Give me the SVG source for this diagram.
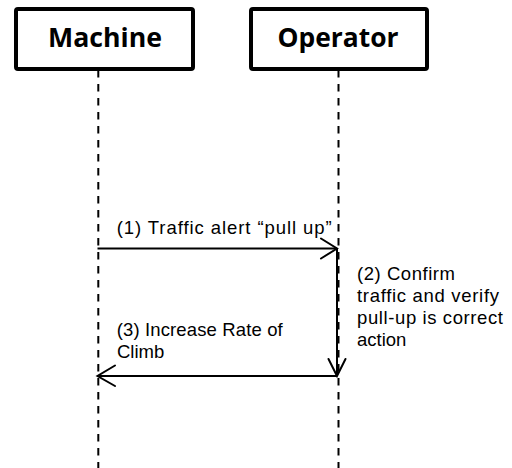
<svg xmlns="http://www.w3.org/2000/svg" width="512" height="468" viewBox="0 0 512 468">
  <style>
    .box { fill: #ffffff; stroke: #000000; stroke-width: 4; }
    .title { font-family: "Open Sans", "Liberation Sans", sans-serif; font-weight: bold; font-size: 27px; fill: #000000; text-anchor: middle; }
    .lifeline { stroke: #000000; stroke-width: 2; stroke-dasharray: 7.5 6.5; fill: none; }
    .msg { stroke: #000000; stroke-width: 2; fill: none; }
    .head { stroke: #000000; stroke-width: 2; fill: none; stroke-linecap: round; stroke-linejoin: miter; }
    .label { font-family: "Liberation Sans", Arial, sans-serif; font-size: 18.5px; fill: #000000; }
  </style>
  <rect width="512" height="468" fill="#ffffff"/>

  <!-- lifelines -->
  <g id="lifelines">
    <line class="lifeline" x1="98.3" y1="70" x2="98.3" y2="468"/>
    <line class="lifeline" x1="338.5" y1="70" x2="338.5" y2="468"/>
  </g>

  <!-- participants -->
  <g id="machine">
    <rect class="box" x="16" y="9" width="177" height="60" rx="2"/>
    <text class="title" x="105" y="47" textLength="114" lengthAdjust="spacingAndGlyphs">Machine</text>
  </g>
  <g id="operator">
    <rect class="box" x="251" y="9" width="176" height="60" rx="2"/>
    <text class="title" x="338" y="47" textLength="121" lengthAdjust="spacingAndGlyphs">Operator</text>
  </g>

  <!-- messages -->
  <g id="connectors">
    <line class="msg" x1="97.5" y1="248.5" x2="337" y2="248.5"/>
    <polyline class="head" points="321,238.5 337,248.5 321,258.5"/>
    <line class="msg" x1="337" y1="248.5" x2="337" y2="376"/>
    <polyline class="head" points="328.5,359 337,376 345.5,359"/>
    <line class="msg" x1="337" y1="376" x2="97.5" y2="376"/>
    <polyline class="head" points="115,365.5 97.5,376 115,386"/>
  </g>

  <!-- message labels -->
  <g id="label-1">
    <text class="label" x="116.7" y="234" textLength="215" lengthAdjust="spacing">(1) Traffic alert “pull up”</text>
  </g>
  <g id="label-2">
    <text class="label" x="357" y="280" textLength="98" lengthAdjust="spacing">(2) Confirm</text>
    <text class="label" x="357" y="302" textLength="142" lengthAdjust="spacing">traffic and verify</text>
    <text class="label" x="357" y="324" textLength="146" lengthAdjust="spacing">pull-up is correct</text>
    <text class="label" x="357" y="346">action</text>
  </g>
  <g id="label-3">
    <text class="label" x="116.7" y="336" textLength="166" lengthAdjust="spacing">(3) Increase Rate of</text>
    <text class="label" x="117" y="357.5">Climb</text>
  </g>
</svg>
